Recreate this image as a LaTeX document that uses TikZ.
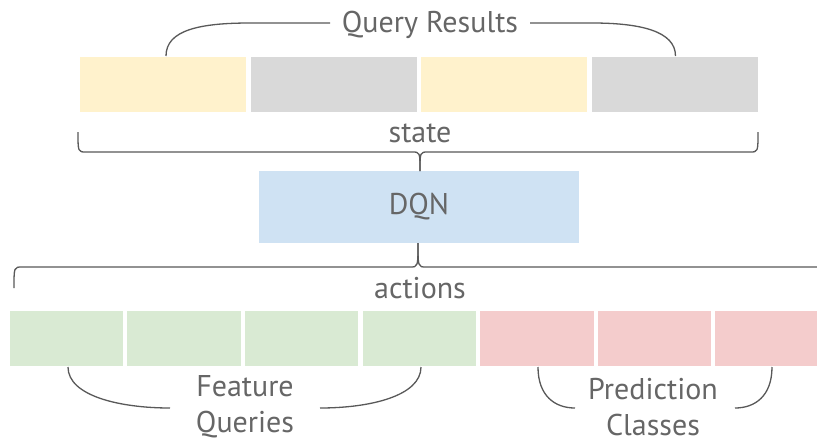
\documentclass[tikz,border=0pt]{standalone}
\usepackage{fontspec}
\setmainfont{PT Sans}
\usetikzlibrary{calc,positioning}
\definecolor{qyellow}{HTML}{FFF2CC}
\definecolor{qgray}{HTML}{D9D9D9}
\definecolor{dqnblue}{HTML}{CFE2F3}
\definecolor{featgreen}{HTML}{D9EAD3}
\definecolor{predred}{HTML}{F4CCCC}
\definecolor{txtgray}{HTML}{666666}
\definecolor{lngray}{HTML}{595959}
\tikzset{
  cell/.style={minimum width=#1, minimum height=55pt, inner sep=0pt, outer sep=0pt},
  lbl/.style={text=txtgray, font=\fontsize{30}{36}\selectfont, align=center, inner sep=0pt},
  brc/.style={draw=lngray, line width=1.3pt}
}

\begin{document}
\begin{tikzpicture}[x=1pt,y=-1pt]
\clip (0,0) rectangle (817,445);
\fill[white] (0,0) rectangle (817,445);
%query results
\foreach \c [count=\i] in {qyellow,qgray,qyellow,qgray}
  \node[cell=166pt, fill=\c] (q\i) at ({163+170.5*(\i-1)},84.5) {};
\node[lbl] (qres) at (430,25) {Query Results};
\draw[brc] (q1.north west) ++(86,-1) coordinate (qa) .. controls ($(qa)+(0,-26)$) and (200,23) .. (250,23) -- (330,23);
\draw[brc] (530,23) -- (592,23) .. controls (640,23) and ($(q4.north)+(1,-26)$) .. ($(q4.north)+(1,-1)$);
%state
\node[lbl] (state) at (420,133) {state};
\node[cell=320pt, minimum height=72pt, fill=dqnblue] (dqn) at (419,207) {};
\node[lbl] at (dqn) {DQN};
\draw[brc] (78,132) .. controls (78,152) .. (86,152) -- (412,152) .. controls (420,152) .. (dqn.north -| 420,0);
\draw[brc] (dqn.north -| 420,0) .. controls (420,152) .. (428,152) -- (750,152) .. controls (758,152) .. (758,132);
%actions
\node[lbl] (act) at (420,288) {actions};
\draw[brc] (14,288) .. controls (14,267) .. (22,267) -- (410,267) .. controls (418,267) .. (dqn.south -| 418,0);
\draw[brc] (dqn.south -| 418,0) .. controls (418,267) .. (426,267) -- (817,267);
\foreach \c [count=\i] in {featgreen,featgreen,featgreen,featgreen,predred,predred,predred}
  \node[cell=113.5pt, fill=\c] (a\i) at ({66.5+117.6*(\i-1)},338.5) {};
%feature queries
\node[lbl] (feat) at (245,407) {Feature\\Queries};
\draw[brc] (68,367) .. controls (68,396) and (120,408) .. (170,408);
\draw[brc] (320,408) .. controls (370,408) and (421,396) .. (421,367);
%prediction classes
\node[lbl] (pred) at (653,407) {Prediction\\Classes};
\draw[brc] (538,367) .. controls (538,396) and (555,408) .. (575,408);
\draw[brc] (735,408) .. controls (755,408) and (772,396) .. (772,367);
\end{tikzpicture}
\end{document}
